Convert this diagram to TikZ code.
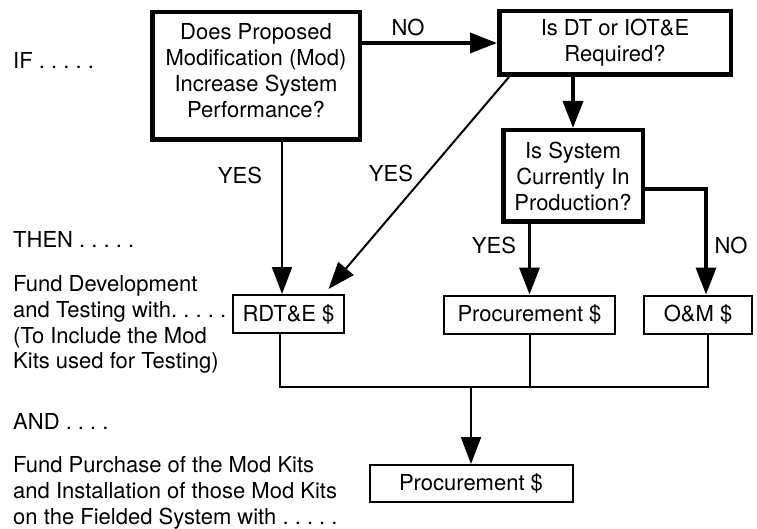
\documentclass[tikz,border=0pt]{standalone}
\usepackage{fontspec}
\setmainfont{TeX Gyre Heros}
\usetikzlibrary{arrows.meta,calc}
\begin{document}
\frenchspacing
\begin{tikzpicture}[x=1pt,y=-1pt,
  font=\fontsize{22}{26}\selectfont,
  qbox/.style={draw,line width=4.5pt,align=center,inner sep=0pt},
  fbox/.style={draw,line width=2pt,inner sep=0pt},
  lbl/.style={inner sep=0pt},
  ltext/.style={anchor=base west,inner sep=0pt},
  heavy/.style={line width=3.5pt,-{Triangle[length=27pt,width=20pt]}},
  light/.style={line width=2pt,-{Triangle[length=27pt,width=20pt]}},
  wire/.style={line width=2pt}
]
\fill[white] (0,0) rectangle (757,529);
\useasboundingbox (0,0) rectangle (757,529);

% decision boxes
\node[qbox,minimum width=207.5pt,minimum height=127.5pt,text depth=11pt] (q1) at (256,76)
  {Does Proposed\\Modification (Mod)\\Increase System\\Performance?};
\node[qbox,minimum width=231.5pt,minimum height=63.5pt] (q2) at (615,43)
  {Is DT or IOT\&E\\Required?};
\node[qbox,minimum width=139.5pt,minimum height=91.5pt] (q3) at (573,176)
  {Is System\\Currently In\\Production?};

% funding boxes
\node[fbox,minimum width=111pt,minimum height=38pt] (rdte) at (288.5,314) {RDT\&E \$};
\node[fbox,minimum width=171pt,minimum height=38pt] (proc) at (529.5,314.5) {Procurement \$};
\node[fbox,minimum width=108pt,minimum height=38pt] (om) at (698,314.5) {O\&M \$};
\node[fbox,minimum width=203pt,minimum height=37pt] (procb) at (471,483.5) {Procurement \$};

% decision flow
\draw[heavy] (q1.east |- q2.west) -- (q2.west);
\draw[light] ([xshift=26pt]q1.south) -- ([xshift=26pt]q1.south |- rdte.north);
\draw[light] ([xshift=-106pt]q2.south) -- ([xshift=40pt,yshift=5pt]rdte.north);
\draw[heavy] (q3.north |- q2.south) -- (q3.north);
\draw[heavy] (proc.north |- q3.south) -- (proc.north);
\draw[heavy] ([yshift=-13pt]q3.east) -| ([xshift=8pt]om.north);

% collecting bus
\coordinate (bus) at (0,387);
\draw[wire] ([xshift=-8.5pt]rdte.south) |- ([xshift=10pt]om.south |- bus) -- ([xshift=10pt]om.south);
\draw[wire] (proc.south) -- (proc.south |- bus);
\draw[light] (procb.north |- bus) -- (procb.north);

% branch labels
\node[lbl] (noA) at (408,27) {NO};
\node[lbl] (yesA) at (240,175) {YES};
\node[lbl] (yesB) at (391,173) {YES};
\node[lbl] (yesC) at (494,245) {YES};
\node[lbl] (noB) at (731,245) {NO};

% left-hand column
\node[ltext] (tIf) at (13,69) {IF . . . . .};
\node[ltext] (tThen) at (13,247.5) {THEN . . . . .};
\node[ltext] (tDev1) at (13,291.5) {Fund Development};
\node[ltext] (tDev2) at (13,317.5) {and Testing with. . . . .};
\node[ltext] (tDev3) at (13,343.5) {(To Include the Mod};
\node[ltext] (tDev4) at (13,368.5) {Kits used for Testing)};
\node[ltext] (tAnd) at (13,429.5) {AND . . . .};
\node[ltext] (tBuy1) at (13,472) {Fund Purchase of the Mod Kits};
\node[ltext] (tBuy2) at (13,498) {and Installation of those Mod Kits};
\node[ltext] (tBuy3) at (13,524) {on the Fielded System with . . . . .};
\end{tikzpicture}
\end{document}
